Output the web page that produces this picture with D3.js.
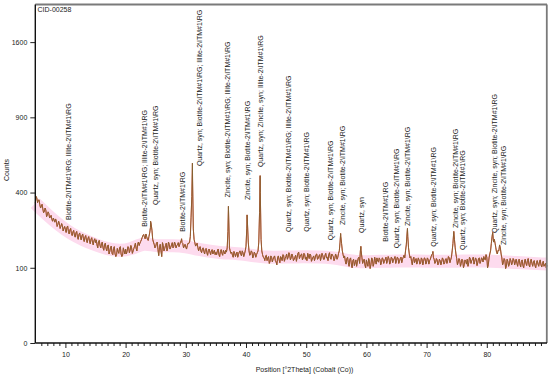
<!DOCTYPE html>
<html><head><meta charset="utf-8">
<script src="https://cdn.jsdelivr.net/npm/d3@7"></script>
<style>body{margin:0;background:#fff}svg{display:block;font-family:"Liberation Sans",Arial,sans-serif}</style>
</head><body><svg id="c" width="550" height="377"></svg>
<script>
const scanStart = 5, scanStep = 0.25;
// counts on the 0.25° grid (5.00 ... 90.00)
const counts = [
345,372,360,338,330,318,305,312,290,296,280,270,276,258,262,248,252,240,244,232,
228,236,220,226,212,218,206,214,200,208,198,204,192,198,186,194,184,190,180,186,
178,170,182,168,174,160,170,158,166,140,162,142,158,140,138,148,160,140,136,150,
156,148,162,152,160,150,166,158,172,168,182,196,208,192,200,186,214,250,190,172,
165,180,135,172,132,168,158,176,160,172,162,178,165,174,168,178,172,186,175,166,
162,168,175,200,380,230,178,170,162,158,150,156,148,155,144,152,146,150,140,152,
145,150,138,148,142,152,140,146,220,160,142,136,148,132,146,138,150,134,144,140,
165,250,150,140,146,134,142,138,150,300,190,138,128,134,120,132,118,130,124,134,
116,128,122,132,120,136,126,140,130,138,128,134,124,136,130,146,132,140,128,138,
130,142,126,136,124,134,128,140,126,138,130,136,124,142,130,138,128,140,132,126,
134,130,150,200,150,128,118,126,114,124,110,120,106,122,116,130,150,130,118,108,
122,104,118,108,124,112,120,128,116,124,114,126,118,130,120,126,116,128,122,132,
120,128,118,130,124,136,150,210,160,128,118,124,114,126,118,122,112,124,118,126,
116,124,120,132,142,124,116,122,112,120,116,124,114,126,120,128,122,150,215,160,
126,116,122,112,120,108,118,124,114,126,120,130,118,124,114,128,118,126,132,122,
130,108,140,175,210,190,160,140,150,160,128,114,122,104,118,110,120,114,122,116,
112,120,110,118,106,116,112,120,108,118,112,116,106,114,110,116,108,112,104,112,
106];
// counts at the half steps (5.125 ... 89.875)
const countsHalf = [
380,348,362,322,340,300,322,282,304,276,288,262,268,272,240,262,232,252,222,240,
216,242,210,232,204,224,198,220,190,214,188,210,182,204,178,200,174,196,170,192,
188,160,186,160,180,152,176,150,170,148,166,138,164,132,158,142,164,132,160,140,
140,164,144,168,142,158,176,150,180,176,188,204,198,210,190,200,235,225,180,160,
176,155,160,150,178,150,168,150,180,156,170,160,180,160,170,164,180,178,160,172,
156,176,180,280,470,190,166,176,150,164,144,160,140,158,136,156,138,154,148,138,
138,156,132,154,136,146,152,160,280,150,146,130,142,140,130,146,140,150,132,150,
230,180,136,150,128,146,130,144,180,400,150,130,120,136,128,112,134,116,130,120,
108,134,114,128,138,118,132,124,144,122,140,120,130,118,142,126,138,122,142,124,
120,134,140,118,130,120,138,124,134,120,142,124,136,128,120,144,124,136,120,140,
124,142,180,175,138,134,110,130,104,128,100,124,114,104,126,112,150,112,124,100,
112,126,98,128,104,130,110,118,128,108,128,112,124,112,132,110,130,114,126,112,
130,112,126,114,130,128,170,200,140,132,108,130,120,110,128,110,128,108,128,110,
128,110,124,138,130,112,126,108,124,108,128,110,124,112,132,114,130,175,190,140,
108,126,104,124,100,122,110,104,130,112,124,110,128,106,126,112,128,116,124,138,
100,128,150,200,180,176,145,152,170,140,108,126,98,124,104,126,108,126,108,124,
104,124,102,122,100,124,106,126,102,124,104,120,100,120,104,122,102,118,108,100];
const peakPoints = [[24.15,262],[29.3,192],[31.1,572],[37.08,330],[40.18,290],[42.35,495],
  [55.72,212],[59.08,165],[66.82,232],[71.05,148],[74.52,220],[80.98,216]];
const bgCurve = [[5,345],[7,290],[9,245],[11,210],[13,188],[15,170],[17,156],[19,150],[21,156],
  [23,178],[25,165],[28,168],[30,165],[32,155],[35,145],[40,140],[43,128],[48,132],[55,130],
  [57,118],[60,116],[65,120],[70,118],[75,118],[80,120],[85,114],[90,110]];
const yTicks = [0,100,400,900,1600];
const xTicks = [10,20,30,40,50,60,70,80];
const labelPos  = [10.5,23.07,24.9,29.5,32.26,36.91,40.23,42.34,47.04,50.1,53.97,56.01,59.12,63.11,65.05,66.85,71.13,74.73,75.9,81.26,82.76];
const labelBase = [267,239,336,219,553,374,361,547,218,219,187,246,214,181,159,242,164,234,153,214,170];
const labelText = [
 "Biotite-2\\ITM#1\\RG; Illite-2\\ITM#1\\RG",
 "Biotite-2\\ITM#1\\RG; Illite-2\\ITM#1\\RG",
 "Quartz, syn; Biotite-2\\ITM#1\\RG",
 "Biotite-2\\ITM#1\\RG",
 "Quartz, syn; Biotite-2\\ITM#1\\RG; Illite-2\\ITM#1\\RG",
 "Zincite, syn; Biotite-2\\ITM#1\\RG; Illite-2\\ITM#1\\RG",
 "Zincite, syn; Biotite-2\\ITM#1\\RG",
 "Quartz, syn; Zincite, syn; Illite-2\\ITM#1\\RG",
 "Quartz, syn; Biotite-2\\ITM#1\\RG; Illite-2\\ITM#1\\RG",
 "Quartz, syn; Biotite-2\\ITM#1\\RG",
 "Quartz, syn; Biotite-2\\ITM#1\\RG",
 "Zincite, syn; Biotite-2\\ITM#1\\RG",
 "Quartz, syn",
 "Biotite-2\\ITM#1\\RG",
 "Quartz, syn; Biotite-2\\ITM#1\\RG",
 "Zincite, syn; Biotite-2\\ITM#1\\RG",
 "Quartz, syn; Biotite-2\\ITM#1\\RG",
 "Zincite, syn; Biotite-2\\ITM#1\\RG",
 "Quartz, syn; Biotite-2\\ITM#1\\RG",
 "Quartz, syn; Zincite, syn; Biotite-2\\ITM#1\\RG",
 "Zincite, syn; Biotite-2\\ITM#1\\RG"];

const svg = d3.select("#c");
const x = d3.scaleLinear().domain([5,90]).range([35.3,547]);
const y = d3.scaleSqrt().domain([0,2025]).range([343,4.5]);

const pts = counts.map((c,i)=>[scanStart+i*scanStep,c])
  .concat(countsHalf.map((c,i)=>[scanStart+scanStep/2+i*scanStep,c]))
  .concat(peakPoints).sort((a,b)=>a[0]-b[0]);

// pink background band
svg.append("path").datum(bgCurve)
  .attr("d", d3.line().x(d=>x(d[0])).y(d=>y(d[1])).curve(d3.curveBasis))
  .attr("fill","none").attr("stroke","#fddbee").attr("stroke-width",13);

const line = d3.line().x(d=>x(d[0])).y(d=>y(d[1]));
svg.append("path").datum(pts).attr("d",line).attr("fill","none")
  .attr("stroke","#e0402f").attr("stroke-width",1.0);
svg.append("path").datum(pts).attr("d",line).attr("fill","none")
  .attr("stroke","#7c6530").attr("stroke-width",0.8);

// frame
svg.append("line").attr("x1",35.3).attr("x2",547).attr("y1",4.5).attr("y2",4.5).attr("stroke","#7a7a7a").attr("stroke-width",1.8);
svg.append("line").attr("x1",546.8).attr("x2",546.8).attr("y1",4.5).attr("y2",343).attr("stroke","#7a7a7a").attr("stroke-width",1.8);

// axes
const xAxis = svg.append("g").attr("transform","translate(0,343)");
xAxis.call(d3.axisBottom(x).tickValues(d3.range(6,90).filter(v=>v%10!==0)).tickSize(3).tickFormat(""))
  .call(g=>g.select(".domain").remove());
xAxis.append("g").call(d3.axisBottom(x).tickValues(xTicks).tickSize(5).tickPadding(4).tickFormat(d3.format("d")))
  .call(g=>g.select(".domain").remove());
xAxis.selectAll("text").attr("font-size",7).attr("fill","#222").attr("font-family","Liberation Sans, Arial");
xAxis.selectAll("line").attr("stroke","#222");
svg.append("line").attr("x1",35.3).attr("x2",547).attr("y1",343).attr("y2",343).attr("stroke","#111").attr("stroke-width",1.4);

const yAxis = svg.append("g").attr("transform","translate(35.3,0)");
yAxis.call(d3.axisLeft(y).tickValues(yTicks).tickSize(5).tickPadding(3).tickFormat(d3.format("d")))
  .call(g=>g.select(".domain").remove());
yAxis.selectAll("text").attr("font-size",7).attr("fill","#222").attr("font-family","Liberation Sans, Arial");
yAxis.selectAll("line").attr("stroke","#222");
svg.append("line").attr("x1",35.3).attr("x2",35.3).attr("y1",4.5).attr("y2",343).attr("stroke","#111").attr("stroke-width",1.4);

// titles
svg.append("text").attr("x",304.5).attr("y",372).attr("text-anchor","middle").attr("font-size",7).attr("fill","#222")
  .text("Position [°2Theta] (Cobalt (Co))");
svg.append("text").attr("transform","translate(8.5,170) rotate(-90)").attr("text-anchor","middle").attr("font-size",7).attr("fill","#222")
  .text("Counts");
svg.append("text").attr("x",37.5).attr("y",11.6).attr("font-size",7).attr("fill","#222").text("CID-00258");

// phase labels
svg.append("g").selectAll("text").data(labelText).join("text")
  .attr("transform",(d,i)=>`translate(${x(labelPos[i])},${y(labelBase[i])}) rotate(-90)`)
  .attr("dominant-baseline","central")
  .attr("font-size",7).attr("fill","#1a1a1a").text(d=>d);
</script></body></html>
